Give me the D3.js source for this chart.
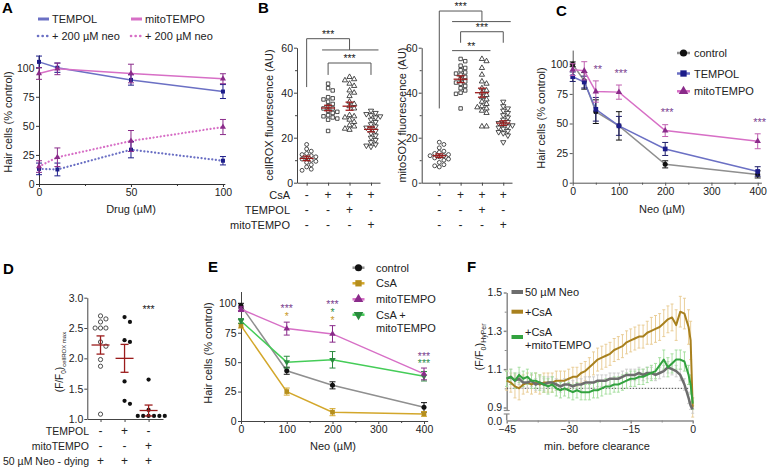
<!DOCTYPE html>
<html>
<head>
<meta charset="utf-8">
<title>ROS and hair cells</title>
<script src="https://cdn.jsdelivr.net/npm/d3@7"></script>
<style>
body { margin: 0; background: #fff; }
svg text { font-family: "Liberation Sans", Arial, sans-serif; }
</style>
</head>
<body>
<script>
// ---- data ----
// panel A
var drugDose = [0, 10, 50, 100];
var aTempol = [105, 100, 89.5, 79.5], aTempolErr = [5, 4, 4.5, 6];
var aMito = [95, 99, 95, 90.5], aMitoErr = [5, 5, 8, 4.3];
var aTempolNeo = [13, 12.5, 29.5, 20], aTempolNeoErr = [5, 5.5, 7, 3.6];
var aMitoNeo = [15, 23, 37, 49], aMitoNeoErr = [5, 8, 9, 6.5];

// panel B
var bCsA = ["-", "+", "+", "+"], bTempol = ["-", "-", "+", "-"], bMito = ["-", "-", "-", "+"];
var roxCtrl = [17, 15, 14, 13, 12.5, 12, 11.5, 11, 10.5, 10, 9.5, 9, 8, 7, 6, 5.5];
var roxCsA = [44, 42, 41, 38, 37.5, 37, 36, 35, 34, 33, 33, 32, 31.5, 31, 30, 29.5, 29, 28.5, 28, 23];
var roxTempol = [47, 46, 45.5, 44, 43, 41, 40, 38.5, 36, 35, 34, 33, 30, 29.5, 29, 28, 27, 25.5, 25, 24, 23.5];
var roxMito = [32, 31, 30.5, 30, 29.5, 29, 28, 27, 26, 25, 24.5, 24, 23, 22, 21, 20, 19, 18, 17, 16.5, 16];
var roxMean = [10.8, 33.2, 34, 23.7], roxSem = [1, 1.2, 1.8, 1.1];
var soxCtrl = [18, 17, 15.5, 14, 13.5, 13, 12.5, 12, 12, 11.5, 11, 10.5, 10, 9, 8, 7.5, 7];
var soxCsA = [55, 54, 52, 51, 50, 49, 48.5, 48, 47, 46, 45, 44.5, 44, 43, 42, 41, 40, 39.5, 33];
var soxTempol = [55, 54, 51, 48, 45, 44, 42, 41, 40, 39, 38, 37, 36, 35, 34, 33.5, 33, 32, 31, 25, 25];
var soxMito = [36, 34, 33, 32, 31, 30, 29, 28, 27, 26.5, 26, 25.5, 25, 24.5, 24, 23, 22.5, 22, 21, 18];
var soxMean = [12, 46, 40, 26.5], soxSem = [0.8, 1.5, 2, 1];

// panel C
var neoDoseC = [0, 25, 50, 100, 200, 400];
var cControl = [100, 86, 60, 48, 15.5, 7], cControlErr = [2, 7, 10, 12, 3, 3];
var cTempol = [89.5, 85, 62, 48, 28.5, 9.5], cTempolErr = [4, 5, 10, 8, 5.5, 4];
var cMito = [95.5, 94.5, 77, 76.5, 44, 35], cMitoErr = [5, 7.7, 9, 6, 5, 6.3];
var cStarDose = [50, 100, 200, 400], cStarText = ["**", "***", "***", "***"], cStarAt = [98, 94, 61, 53];

// panel D
var dRowTempol = ["-", "+", "-"], dRowMito = ["-", "-", "+"], dRowNeo = ["+", "+", "+"];
var dNeo = [2.7, 2.65, 2.6, 2.5, 2.5, 2.5, 2.27, 2.2, 1.98, 1.87, 1.08];
var dTempol = [2.68, 2.6, 2.3, 2.27, 1.62, 1.3, 1.25];
var dMito = [1.65, 1.15, 1.05, 1.05, 1.05, 1.05, 1.05, 1.05];
var dMean = [2.22, 2.0, 1.14], dSem = [0.15, 0.23, 0.09];

// panel E
var neoDoseE = [0, 100, 200, 400];
var eControl = [98, 42.7, 30.3, 11.6], eControlErr = [2, 3, 3, 4];
var eCsA = [81, 25, 7.5, 6], eCsAErr = [2, 3, 3, 2];
var eMito = [95, 78.5, 74, 40], eMitoErr = [2, 5.5, 7, 5];
var eCsAMito = [85, 50, 52, 38], eCsAMitoErr = [2, 5, 7, 4];
// stacked significance marks above each dose: text, series colour, top position
var eStarDose = [100, 200, 400];
var eStarText = [["***", "*"], ["***", "*", "*"], ["***", "***"]];
var eStarSeries = [["mito", "csa"], ["mito", "green", "csa"], ["mito", "green"]];
var eStarTop = [96.5, 100, 56.4];

// panel F
var fTime = [-45, -44, -43, -42, -41, -40, -39, -38, -37, -36, -35, -34, -33, -32, -31, -30, -29, -28, -27, -26,
  -25, -24, -23, -22, -21, -20, -19, -18, -17, -16, -15, -14, -13, -12, -11, -10, -9, -8, -7, -6,
  -5, -4, -3, -2, -1, -0.5, 0];
var fNeo = [1.05, 1.06, 1.04, 1.05, 1.03, 1.03, 1.04, 1.02, 1.03, 1.02, 1.03, 1.03, 1.02, 1.01, 1.02, 1.02, 1.01, 1.02, 1.02, 1.03,
  1.03, 1.03, 1.04, 1.04, 1.04, 1.05, 1.05, 1.05, 1.06, 1.07, 1.07, 1.07, 1.08, 1.07, 1.08, 1.08, 1.07, 1.08, 1.09, 1.11,
  1.10, 1.09, 1.07, 1.02, 0.95, 0.91, 0.89];
var fNeoErr = [.04, .04, .04, .03, .03, .03, .03, .03, .03, .03, .03, .03, .03, .03, .03, .03, .03, .03, .03, .03,
  .03, .03, .03, .03, .03, .03, .03, .03, .03, .03, .03, .03, .03, .03, .03, .03, .03, .03, .03, .03,
  .03, .03, .03, .03, .03, .02, .02];
var fCsA = [1.04, 1.03, 1.01, 1.00, 1.02, 1.03, 1.02, 1.03, 1.02, 1.03, 1.03, 1.03, 1.04, 1.04, 1.04, 1.05, 1.06, 1.06, 1.08, 1.09,
  1.11, 1.13, 1.15, 1.16, 1.17, 1.18, 1.20, 1.21, 1.22, 1.24, 1.25, 1.26, 1.27, 1.27, 1.29, 1.30, 1.31, 1.32, 1.34, 1.36,
  1.37, 1.33, 1.40, 1.39, 1.32, 1.25, 0.90];
var fCsAErr = [.05, .05, .06, .06, .05, .05, .05, .05, .05, .05, .05, .05, .05, .05, .05, .05, .05, .05, .05, .05,
  .05, .06, .06, .06, .06, .06, .06, .06, .06, .06, .06, .06, .06, .06, .06, .07, .07, .07, .07, .07,
  .07, .08, .08, .08, .09, .10, .05];
var fCsAMito = [1.05, 1.06, 1.04, 1.07, 1.05, 1.06, 1.04, 1.04, 1.03, 1.02, 1.01, 1.02, 1.00, 0.99, 1.00, 0.99, 0.98, 0.99, 0.98, 0.98,
  0.98, 0.99, 0.99, 1.00, 1.01, 1.01, 1.02, 1.02, 1.03, 1.04, 1.05, 1.05, 1.06, 1.06, 1.07, 1.08, 1.09, 1.12, 1.15, 1.11,
  1.13, 1.15, 1.15, 1.14, 1.07, 1.02, 0.92];
var fCsAMitoErr = [.04, .04, .04, .04, .04, .04, .04, .04, .04, .04, .04, .04, .04, .04, .04, .04, .04, .04, .04, .04,
  .04, .04, .04, .04, .04, .04, .04, .04, .04, .04, .04, .04, .04, .04, .04, .04, .04, .04, .05, .05,
  .05, .05, .05, .05, .05, .05, .03];

// ---- helpers ----
var FONT = '"Liberation Sans", Arial, sans-serif';
var svg = d3.select("body").append("svg").attr("width", 767).attr("height", 468);

function txt(x, y, s, o) {
  o = o || {};
  var t = svg.append("text").attr("x", x).attr("y", y).text(s)
    .attr("font-size", o.size || 11).attr("fill", o.fill || "#222")
    .attr("text-anchor", o.anchor || "start");
  if (o.weight) t.attr("font-weight", o.weight);
  if (o.rotate) t.attr("transform", "rotate(-90," + x + "," + y + ")");
  return t;
}

function axis(gen, tx, ty, color, width) {
  var g = svg.append("g").attr("transform", "translate(" + tx + "," + ty + ")").call(gen);
  g.attr("font-family", FONT).attr("font-size", 10.5);
  g.selectAll("path,line").attr("stroke", color || "#333").attr("stroke-width", width || 1);
  g.selectAll("text").attr("fill", "#222");
  return g;
}

function minor(gen, tx, ty, color) {
  var g = axis(gen.tickFormat("").tickSize(2), tx, ty, color);
  g.select("path").remove();
}

function hline(x1, x2, y, c, w) {
  svg.append("line").attr("x1", x1).attr("x2", x2).attr("y1", y).attr("y2", y)
    .attr("stroke", c || "#333").attr("stroke-width", w || 1);
}
function vline(x, y1, y2, c, w) {
  svg.append("line").attr("x1", x).attr("x2", x).attr("y1", y1).attr("y2", y2)
    .attr("stroke", c || "#333").attr("stroke-width", w || 1);
}

function marker(g, x, y, type, size, fill, stroke) {
  var down = type === "down";
  var sym = type === "square" ? d3.symbolSquare : (type === "circle" ? d3.symbolCircle : d3.symbolTriangle);
  g.append("path").attr("d", d3.symbol().type(sym).size(size)())
    .attr("transform", "translate(" + x + "," + y + ")" + (down ? " rotate(180)" : ""))
    .attr("fill", fill).attr("stroke", stroke || "none").attr("stroke-width", 0.8);
}

function lineSeries(xs, ys, xv, vals, errs, o) {
  var pts = xv.map(function (x, i) { return { x: x, v: vals[i], e: errs[i] }; });
  svg.append("path").datum(pts)
    .attr("d", d3.line().x(function (d) { return xs(d.x); }).y(function (d) { return ys(d.v); }))
    .attr("fill", "none").attr("stroke", o.line).attr("stroke-width", o.lw || 1.5)
    .attr("stroke-dasharray", o.dash || null).attr("stroke-linecap", o.dash ? "round" : null);
  var g = svg.append("g");
  pts.forEach(function (d) {
    var x = xs(d.x);
    g.append("line").attr("x1", x).attr("x2", x).attr("y1", ys(d.v - d.e)).attr("y2", ys(d.v + d.e))
      .attr("stroke", o.err || o.mark).attr("stroke-width", 1);
    [d.v - d.e, d.v + d.e].forEach(function (v) {
      g.append("line").attr("x1", x - 3).attr("x2", x + 3).attr("y1", ys(v)).attr("y2", ys(v))
        .attr("stroke", o.err || o.mark).attr("stroke-width", 1);
    });
    marker(g, x, ys(d.v), o.sym, o.size || 18, o.mark);
  });
}

// simple dodge so that points with close values sit side by side
function swarm(vals, xc, ys, step) {
  var placed = [];
  return vals.slice().sort(function (a, b) { return b - a; }).map(function (v) {
    var y = ys(v), k = 0, x;
    for (;;) {
      x = xc + (k === 0 ? 0 : (k % 2 ? 1 : -1) * Math.ceil(k / 2) * step);
      var hit = placed.some(function (p) { return Math.hypot(p.x - x, p.y - y) < step * 0.95; });
      if (!hit) break;
      k++;
    }
    placed.push({ x: x, y: y });
    return { x: x, y: y };
  });
}

function meanSem(x, ys, m, s, half) {
  var c = "#9b1c1c";
  hline(x - half, x + half, ys(m), c, 1.3);
  vline(x, ys(m - s), ys(m + s), c, 1.3);
  hline(x - 4, x + 4, ys(m - s), c, 1.3);
  hline(x - 4, x + 4, ys(m + s), c, 1.3);
}

var BLUE_L = "#6b70c4", BLUE_M = "#1d1d8a", PINK_L = "#d76fc6", PURP_M = "#8a2b8a";
var GREY_L = "#8f8f8f", GOLD_L = "#d3a72b", GOLD_M = "#b58e1c", GREEN_L = "#45cc58", GREEN_M = "#2a8a3e";
var STAR_P = "#7b3f8f", STAR_G = "#c99a2e", STAR_GR = "#2f8f4f";

// ---- Panel A ----
txt(2, 13, "A", { size: 15, weight: "bold", fill: "#000" });
var xA = d3.scaleLinear().domain([0, 101]).range([39, 224.8]);
var yA = d3.scaleLinear().domain([0, 111]).range([184, 184 - 111 * 1.163]);
axis(d3.axisLeft(yA).tickValues([0, 25, 50, 75, 100]).tickSize(3).tickPadding(1.5).tickSizeOuter(0), 39, 0);
axis(d3.axisBottom(xA).tickValues([0, 50, 100]).tickSize(3).tickPadding(2).tickSizeOuter(0), 0, 184);
minor(d3.axisBottom(xA).tickValues([25, 75]), 0, 184);
txt(12, 122, "Hair cells (% control)", { anchor: "middle", rotate: true });
txt(131, 213, "Drug (\u00b5M)", { anchor: "middle" });

lineSeries(xA, yA, drugDose, aTempolNeo, aTempolNeoErr, { line: BLUE_L, mark: BLUE_M, sym: "square", dash: "0.1,3.5", lw: 2.2, size: 16 });
lineSeries(xA, yA, drugDose, aMitoNeo, aMitoNeoErr, { line: PINK_L, mark: PURP_M, sym: "triangle", dash: "0.1,3.5", lw: 2.2, size: 16 });
lineSeries(xA, yA, drugDose, aTempol, aTempolErr, { line: BLUE_L, mark: BLUE_M, sym: "square", size: 16 });
lineSeries(xA, yA, drugDose, aMito, aMitoErr, { line: PINK_L, mark: PURP_M, sym: "triangle", size: 16 });

// legend A
[[37, 19, BLUE_L, null, "TEMPOL"], [130, 19, PINK_L, null, "mitoTEMPO"],
 [37, 36, BLUE_L, "0.1,4.5", "+ 200 \u00b5M neo"], [130, 36, PINK_L, "0.1,4.5", "+ 200 \u00b5M neo"]].forEach(function (r) {
  svg.append("line").attr("x1", r[0] + 1).attr("x2", r[0] + 12).attr("y1", r[1]).attr("y2", r[1])
    .attr("stroke", r[2]).attr("stroke-width", r[3] ? 2.6 : 3).attr("stroke-dasharray", r[3])
    .attr("stroke-linecap", r[3] ? "round" : "butt");
  txt(r[0] + 15, r[1] + 4, r[4], { size: 11 });
});

// ---- Panel B ----
txt(258, 13, "B", { size: 15, weight: "bold", fill: "#000" });
var yB = d3.scaleLinear().domain([0, 60]).range([182.7, 47.7]);
var xB1 = d3.scaleLinear().domain([-0.45, 3.42]).range([297, 380]);
var xB2 = d3.scaleLinear().domain([-0.825, 3.41]).range([421.7, 512]);
var bSyms = ["circle", "square", "triangle", "down"];

[[xB1, [roxCtrl, roxCsA, roxTempol, roxMito], roxMean, roxSem, 297, "cellROX fluorescence (AU)", 273],
 [xB2, [soxCtrl, soxCsA, soxTempol, soxMito], soxMean, soxSem, 421.7, "mitoSOX fluorescence (AU)", 406]].forEach(function (p) {
  var xs = p[0];
  axis(d3.axisLeft(yB).tickValues([0, 20, 40, 60]).tickSize(3).tickPadding(1).tickSizeOuter(0), p[4], 0, "#444");
  minor(d3.axisLeft(yB).tickValues([10, 30, 50]), p[4], 0, "#444");
  axis(d3.axisBottom(xs).tickValues([0, 1, 2, 3]).tickFormat("").tickSize(3).tickSizeOuter(0), 0, 182.7, "#444");
  txt(p[6], 115, p[5], { anchor: "middle", rotate: true });
  var g = svg.append("g");
  p[1].forEach(function (vals, i) {
    swarm(vals, xs(i), yB, 4.6).forEach(function (pt) {
      marker(g, pt.x, pt.y, bSyms[i], 12, "#fff", "#222");
    });
    meanSem(xs(i), yB, p[2][i], p[3][i], 7);
  });
  [bCsA, bTempol, bMito].forEach(function (row, r) {
    row.forEach(function (s, i) { txt(xs(i), 199 + r * 15, s, { anchor: "middle", size: 12 }); });
  });
});
txt(290, 199, "CsA", { anchor: "end" });
txt(290, 214, "TEMPOL", { anchor: "end" });
txt(290, 229, "mitoTEMPO", { anchor: "end" });

// significance brackets, cellROX
vline(xB1(0), yB(64), yB(42.5), "#555");
hline(xB1(0), xB1(2), yB(64), "#555");
vline(xB1(2), yB(64), yB(59), "#555");
hline(xB1(0.72), xB1(3.35), yB(59), "#555");
txt((xB1(0) + xB1(2)) / 2, yB(64) - 1, "***", { anchor: "middle", size: 10.5 });
hline(xB1(1), xB1(3), yB(53.2), "#555");
vline(xB1(1), yB(53.2), yB(47.9), "#555");
vline(xB1(3), yB(53.2), yB(47.9), "#555");
txt((xB1(1) + xB1(3)) / 2, yB(53.2) - 1, "***", { anchor: "middle", size: 10.5 });
// mitoSOX
vline(xB2(0), yB(76.3), yB(33), "#555");
hline(xB2(0), xB2(2), yB(76.3), "#555");
vline(xB2(2), yB(76.3), yB(71.6), "#555");
hline(xB2(0.6), xB2(3.35), yB(71.6), "#555");
txt((xB2(0) + xB2(2)) / 2, yB(76.3) - 1, "***", { anchor: "middle", size: 10.5 });
hline(xB2(1), xB2(3), yB(67.1), "#555");
vline(xB2(1), yB(67.1), yB(62.2), "#555");
vline(xB2(3), yB(67.1), yB(62.2), "#555");
txt((xB2(1) + xB2(3)) / 2, yB(67.1) - 1, "***", { anchor: "middle", size: 10.5 });
hline(xB2(0.6), xB2(2.4), yB(58.7), "#555");
txt((xB2(0.6) + xB2(2.4)) / 2, yB(58.7) - 1, "**", { anchor: "middle", size: 10.5 });

// ---- Panel C ----
txt(556, 16, "C", { size: 15, weight: "bold", fill: "#000" });
var xC = d3.scaleLinear().domain([0, 408]).range([572.7, 572.7 + 408 * 0.4625]);
var yC = d3.scaleLinear().domain([0, 112]).range([182.7, 182.7 - 112 * 1.184]);
axis(d3.axisLeft(yC).tickValues([0, 25, 50, 75, 100]).tickSize(3).tickPadding(1.5).tickSizeOuter(0), 572.7, 0, "#555");
axis(d3.axisBottom(xC).tickValues([0, 100, 200, 300, 400]).tickSize(3).tickPadding(2).tickSizeOuter(0), 0, 182.7, "#555");
minor(d3.axisBottom(xC).tickValues([50, 150, 250, 350]), 0, 182.7, "#555");
txt(545, 118, "Hair cells (% control)", { anchor: "middle", rotate: true });
txt(662, 213, "Neo (\u00b5M)", { anchor: "middle" });
lineSeries(xC, yC, neoDoseC, cControl, cControlErr, { line: GREY_L, mark: "#111", sym: "circle", size: 20 });
lineSeries(xC, yC, neoDoseC, cTempol, cTempolErr, { line: BLUE_L, mark: BLUE_M, sym: "square", size: 22, err: "#1d1d6a" });
lineSeries(xC, yC, neoDoseC, cMito, cMitoErr, { line: PINK_L, mark: PURP_M, sym: "triangle", size: 18, err: "#c060b0" });
cStarDose.forEach(function (d, i) {
  txt(xC(d) + 2, yC(cStarAt[i]) + 6, cStarText[i], { anchor: "middle", fill: STAR_P, size: 11 });
});
[["control", GREY_L, "#111", "circle"], ["TEMPOL", BLUE_L, BLUE_M, "square"], ["mitoTEMPO", PINK_L, PURP_M, "triangle"]].forEach(function (r, i) {
  var y = [53, 73.5, 91.3][i];
  hline(677, 690, y, r[1], 2.5);
  marker(svg, 683.5, y, r[3], 40, r[2]);
  txt(694, y + 4, r[0], { size: 11 });
});

// ---- Panel D ----
txt(3, 274, "D", { size: 15, weight: "bold", fill: "#000" });
var yD = d3.scaleLinear().domain([1, 3]).range([419, 297.7]);
var xD = d3.scaleLinear().domain([-0.55, 2.6]).range([87.3, 163]);
axis(d3.axisLeft(yD).tickValues([1, 1.5, 2, 2.5, 3]).tickFormat(d3.format(".1f")).tickSize(3).tickPadding(1).tickSizeOuter(0), 87.3, 0, "#444");
axis(d3.axisBottom(xD).tickValues([0, 1, 2]).tickFormat("").tickSize(3).tickSizeOuter(0), 0, 419, "#444");
var dl = svg.append("text").attr("transform", "translate(63,362) rotate(-90)").attr("text-anchor", "middle")
  .attr("font-size", 10).attr("fill", "#222");
dl.append("tspan").text("(F/F");
dl.append("tspan").text("0").attr("font-size", 6.5).attr("dy", 3);
dl.append("tspan").text(")").attr("dy", -3);
dl.append("tspan").text("cellROX max").attr("font-size", 6).attr("dy", 3);
var gD = svg.append("g");
[dNeo, dTempol, dMito].forEach(function (vals, i) {
  swarm(vals, xD(i), yD, 5.4).forEach(function (pt) {
    marker(gD, pt.x, pt.y, "circle", 14, i === 0 ? "#fff" : "#111", i === 0 ? "#222" : null);
  });
  meanSem(xD(i), yD, dMean[i], dSem[i], 9);
});
txt(xD(2), 313, "***", { anchor: "middle", size: 10.5 });
[[dRowTempol, "TEMPOL"], [dRowMito, "mitoTEMPO"], [dRowNeo, "50 \u00b5M Neo - dying"]].forEach(function (r, k) {
  var y = 435 + k * 14.8;
  txt(89, y, r[1], { anchor: "end", size: 10.5 });
  r[0].forEach(function (s, i) { txt(xD(i), y, s, { anchor: "middle", size: 12 }); });
});

// ---- Panel E ----
txt(208, 272, "E", { size: 15, weight: "bold", fill: "#000" });
var xE = d3.scaleLinear().domain([0, 408]).range([241, 241 + 408 * 0.4575]);
var yE = d3.scaleLinear().domain([0, 110]).range([421, 421 - 110 * 1.177]);
axis(d3.axisLeft(yE).tickValues([0, 25, 50, 75, 100]).tickSize(3).tickPadding(1.5).tickSizeOuter(0), 241, 0, "#444");
axis(d3.axisBottom(xE).tickValues([0, 100, 200, 300, 400]).tickSize(3).tickPadding(2).tickSizeOuter(0), 0, 421, "#444");
minor(d3.axisBottom(xE).tickValues([50, 150, 250, 350]), 0, 421, "#444");
txt(212, 353, "Hair cells (% control)", { anchor: "middle", rotate: true });
txt(333, 450, "Neo (\u00b5M)", { anchor: "middle" });
lineSeries(xE, yE, neoDoseE, eControl, eControlErr, { line: GREY_L, mark: "#111", sym: "circle", size: 20 });
lineSeries(xE, yE, neoDoseE, eCsA, eCsAErr, { line: GOLD_L, mark: GOLD_M, sym: "square", size: 22, err: GOLD_L });
lineSeries(xE, yE, neoDoseE, eCsAMito, eCsAMitoErr, { line: GREEN_L, mark: GREEN_M, sym: "down", size: 18, err: GREEN_M });
lineSeries(xE, yE, neoDoseE, eMito, eMitoErr, { line: PINK_L, mark: PURP_M, sym: "triangle", size: 18, err: PURP_M });
var starCol = { mito: STAR_P, csa: STAR_G, green: STAR_GR };
eStarDose.forEach(function (d, i) {
  // one text block per dose, one line per compared series
  var t = svg.append("text").attr("text-anchor", "middle").attr("font-size", 10.5);
  eStarText[i].forEach(function (s, k) {
    t.append("tspan").attr("x", xE(d)).attr("y", yE(eStarTop[i]) + 5 + k * 7.6)
      .attr("fill", starCol[eStarSeries[i][k]]).text(s);
  });
});
[["control", GREY_L, "#111", "circle", 267.7], ["CsA", GOLD_L, GOLD_M, "square", 283.3],
 ["mitoTEMPO", PINK_L, PURP_M, "triangle", 299.3], ["CsA +", GREEN_L, GREEN_M, "down", 314.7]].forEach(function (r) {
  hline(352.5, 364.5, r[4], r[1], 2.5);
  marker(svg, 358.5, r[4], r[3], 40, r[2]);
  txt(376, r[4] + 4, r[0], { size: 11 });
});
txt(376, 332, "mitoTEMPO", { size: 11 });

// ---- Panel F ----
txt(467, 272, "F", { size: 15, weight: "bold", fill: "#000" });
var xF = d3.scaleLinear().domain([-45, 0]).range([506.7, 692.7]);
var yF = d3.scaleLinear().domain([0.9, 1.5]).range([407.5, 292.5]);
var yFax = yF.copy().domain([0.884, 1.5]).range([yF(0.884), yF(1.5)]);
axis(d3.axisLeft(yFax).tickValues([0.9, 1.1, 1.3, 1.5]).tickFormat(d3.format(".1f")).tickSize(3).tickPadding(1.5).tickSizeOuter(0), 506.7, 0, "#8a8a8a", 1.5);
minor(d3.axisLeft(yF).tickValues([1.0, 1.2, 1.4]), 506.7, 0, "#8a8a8a");
// axis break down to 0.0
vline(506.7, 414, 420.5, "#8a8a8a", 1.5);
hline(503.7, 509.7, 410.5, "#8a8a8a", 1.2);
hline(503.7, 509.7, 414, "#8a8a8a", 1.2);
txt(502, 424.5, "0.0", { anchor: "end", size: 10.5 });
axis(d3.axisBottom(xF).tickValues([-45, -30, -15, 0]).tickSize(3).tickPadding(2).tickSizeOuter(0), 0, 420.5, "#8a8a8a", 1.5);
minor(d3.axisBottom(xF).tickValues([-37.5, -22.5, -7.5]), 0, 420.5, "#8a8a8a");
var fl = svg.append("text").attr("transform", "translate(483,347) rotate(-90)").attr("text-anchor", "middle")
  .attr("font-size", 11).attr("fill", "#222");
fl.append("tspan").text("(F/F");
fl.append("tspan").text("0").attr("font-size", 7).attr("dy", 3);
fl.append("tspan").text(")").attr("dy", -3);
fl.append("tspan").text("HyPer").attr("font-size", 7).attr("dy", 3);
txt(597, 450, "min. before clearance", { anchor: "middle" });
svg.append("line").attr("x1", xF(-45)).attr("x2", xF(-1)).attr("y1", yF(1)).attr("y2", yF(1))
  .attr("stroke", "#333").attr("stroke-width", 0.9).attr("stroke-dasharray", "1.5,1.5");

function trace(vals, errs, col, ecol, lw) {
  var g = svg.append("g");
  fTime.forEach(function (t, i) {
    var x = xF(t);
    g.append("line").attr("x1", x).attr("x2", x).attr("y1", yF(vals[i] - errs[i])).attr("y2", yF(vals[i] + errs[i]))
      .attr("stroke", ecol).attr("stroke-width", 0.9);
    [vals[i] - errs[i], vals[i] + errs[i]].forEach(function (v) {
      g.append("line").attr("x1", x - 1.5).attr("x2", x + 1.5).attr("y1", yF(v)).attr("y2", yF(v))
        .attr("stroke", ecol).attr("stroke-width", 0.9);
    });
  });
  return function () {
    svg.append("path").datum(vals)
      .attr("d", d3.line().x(function (d, i) { return xF(fTime[i]); }).y(function (d) { return yF(d); }))
      .attr("fill", "none").attr("stroke", col).attr("stroke-width", lw).attr("stroke-linejoin", "round");
  };
}
var drawGold = trace(fCsA, fCsAErr, "#a8801e", "#e8c98f", 2);
var drawGrey = trace(fNeo, fNeoErr, "#6d6d6d", "#cacaca", 2.5);
var drawGreen = trace(fCsAMito, fCsAMitoErr, "#32a23f", "#9fdc99", 2);
drawGold(); drawGrey(); drawGreen();

[["50 \u00b5M Neo", "#6d6d6d", 292], ["+CsA", "#a8801e", 311.7], ["+CsA", "#32a23f", 331.5]].forEach(function (r, i) {
  hline(511.5, 523, i === 2 ? 337 : r[2], r[1], 4);
  txt(525, r[2] + 4, r[0], { size: 11 });
});
txt(525, 348.5, "+mitoTEMPO", { size: 11 });
</script>
</body>
</html>
